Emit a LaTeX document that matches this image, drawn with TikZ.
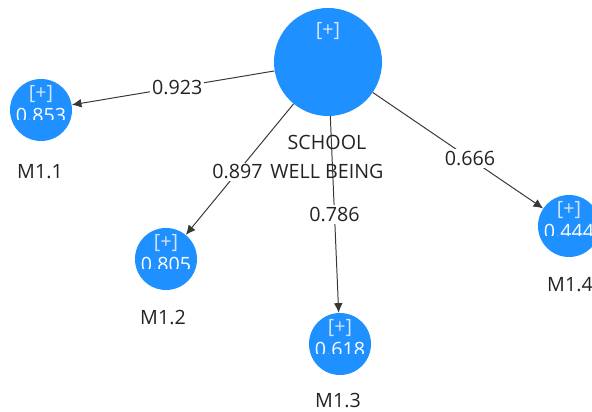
\documentclass[tikz,border=0pt]{standalone}
\usepackage{fontspec}
\setmainfont{Open Sans}
\usetikzlibrary{arrows.meta}
\definecolor{lvblue}{RGB}{30,144,255}
\definecolor{plusgray}{RGB}{215,228,245}
\definecolor{pathgray}{RGB}{55,55,55}
\definecolor{textgray}{RGB}{35,35,35}

\begin{document}
\begin{tikzpicture}[x=0.025cm,y=-0.025cm,>=Latex,
  latent/.style={circle,fill=lvblue,minimum size=2.7cm,inner sep=0pt},
  indicator/.style={circle,fill=lvblue,minimum size=1.55cm,inner sep=0pt},
  plus/.style={text=plusgray,font=\fontsize{14}{16}\selectfont,inner sep=0pt},
  valtext/.style={text=white,font=\fontsize{14}{16}\selectfont,inner sep=0pt},
  mname/.style={text=textgray,font=\fontsize{14}{20.6}\selectfont,align=center,inner sep=0pt},
  loading/.style={draw=pathgray,line width=0.7pt,-{Latex[length=2.4mm,width=2.2mm]}},
  coef/.style={fill=white,text=textgray,font=\fontsize{14}{16}\selectfont,inner sep=1.5pt}]
\useasboundingbox (0,0) rectangle (592,412);

% latent variable and its indicators
\node[latent] (school) at (328,62) {};
\node[plus] at (328,31) {[+]};
\node[mname] (schoolname) at (327,157) {SCHOOL\\WELL BEING};

\node[indicator] (m11) at (41,110) {};
\node[indicator] (m12) at (166,259) {};
\node[indicator] (m13) at (340,344) {};
\node[indicator] (m14) at (569,226) {};

\node[plus] at (41,94) {[+]};
\node[plus] at (166,243) {[+]};
\node[plus] at (340,328) {[+]};
\node[plus] at (569,210) {[+]};

% values are cut off at the lower edge
\begin{scope}
\clip (6,75) rectangle (76,120);
\node[valtext] at (41,116) {0.853};
\end{scope}
\begin{scope}
\clip (131,224) rectangle (201,269);
\node[valtext] at (166,265) {0.805};
\end{scope}
\begin{scope}
\clip (305,309) rectangle (375,354);
\node[valtext] at (340,350) {0.618};
\end{scope}
\begin{scope}
\clip (534,191) rectangle (604,236);
\node[valtext] at (569,232) {0.444};
\end{scope}

\node[mname] (m11name) at (40,172) {M1.1};
\node[mname] (m12name) at (163,318) {M1.2};
\node[mname] (m13name) at (338,401) {M1.3};
\node[mname] (m14name) at (570,285) {M1.4};

% outer loadings
\draw[loading] (school) -- node[coef,pos=0.48] {0.923} (m11);
\draw[loading] (school) -- node[coef,pos=0.52] {0.897} (m12);
\draw[loading] (school) -- node[coef,pos=0.5] {0.786} (m13);
\draw[loading] (school) -- node[coef,pos=0.57] {0.666} (m14);
\end{tikzpicture}
\end{document}
